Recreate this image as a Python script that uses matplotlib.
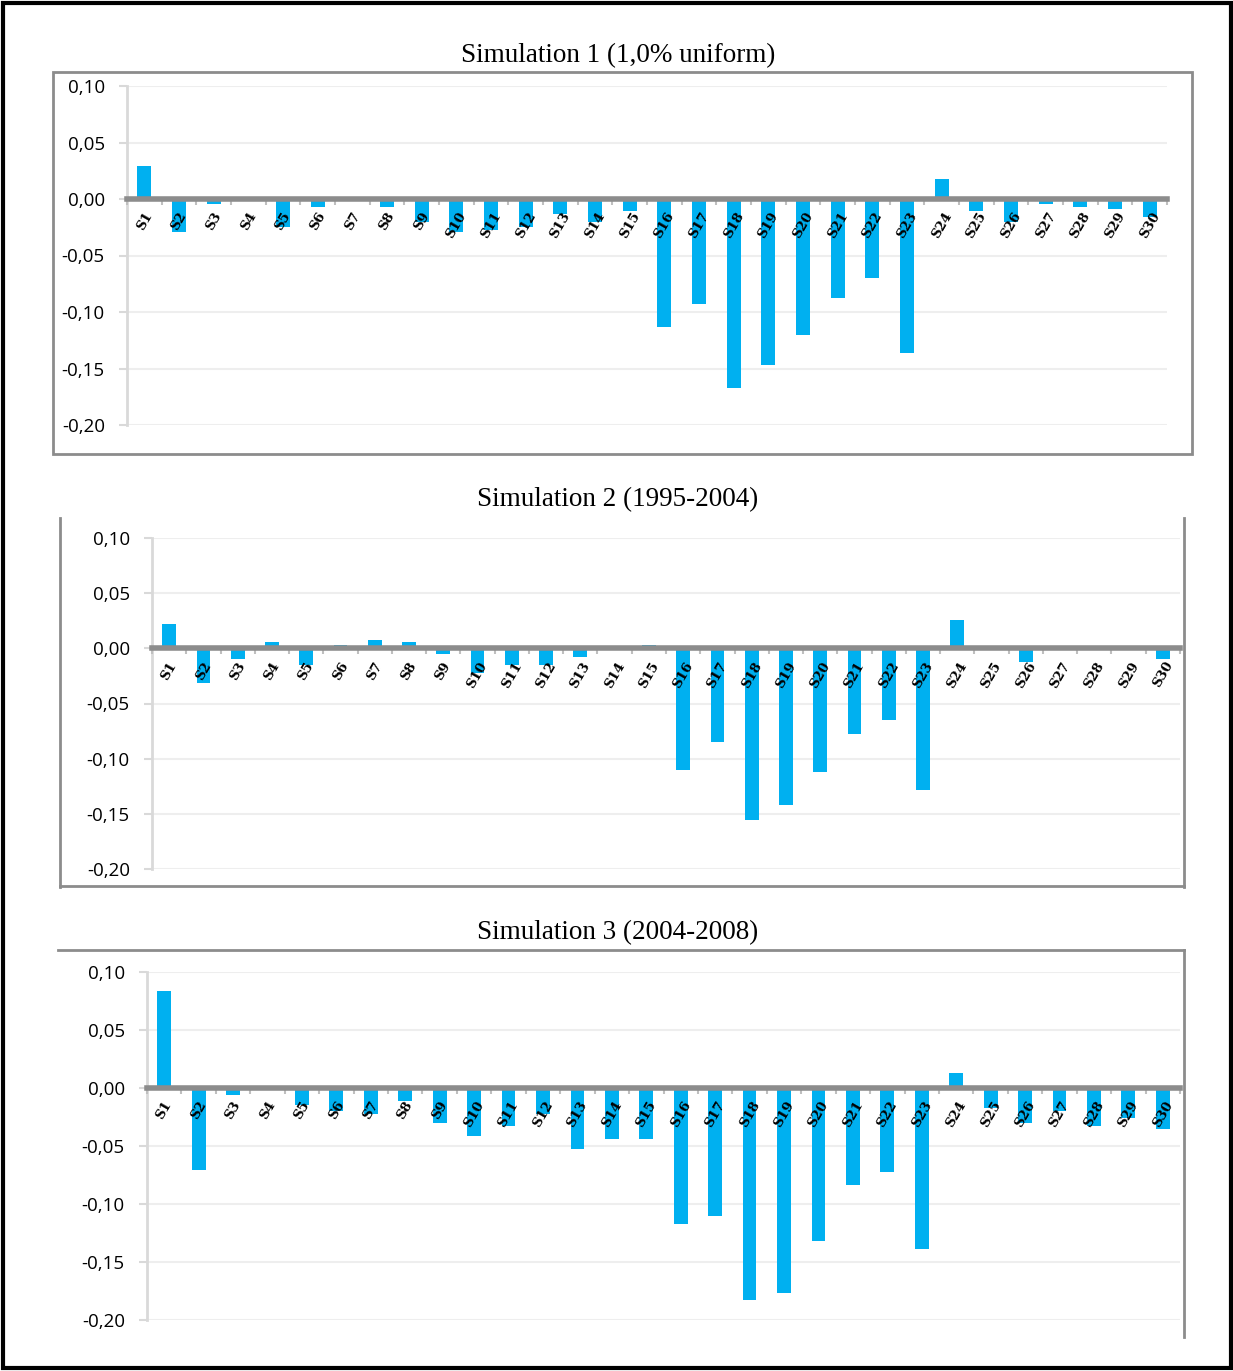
import matplotlib.pyplot as plt
import numpy as np
from matplotlib.lines import Line2D
from matplotlib.patches import Rectangle

sectors = ["S%d" % i for i in range(1, 31)]

sim1 = [0.029, -0.029, -0.004, 0.0, -0.025, -0.007, 0.0, -0.007, -0.020, -0.029,
        -0.027, -0.025, -0.013, -0.020, -0.011, -0.113, -0.093, -0.167, -0.147, -0.120,
        -0.088, -0.070, -0.136, 0.018, -0.011, -0.020, -0.004, -0.007, -0.009, -0.016]

sim2 = [0.022, -0.031, -0.010, 0.006, -0.015, 0.003, 0.008, 0.006, -0.005, -0.022,
        -0.015, -0.015, -0.008, 0.0, 0.003, -0.110, -0.085, -0.156, -0.142, -0.112,
        -0.078, -0.065, -0.128, 0.026, 0.0, -0.012, 0.0, 0.0, 0.0, -0.010]

sim3 = [0.084, -0.071, -0.006, 0.0, -0.015, -0.020, -0.022, -0.011, -0.030, -0.041,
        -0.033, -0.022, -0.053, -0.044, -0.044, -0.117, -0.110, -0.183, -0.177, -0.132,
        -0.084, -0.072, -0.139, 0.013, -0.017, -0.030, -0.020, -0.033, -0.026, -0.035]

titles = ["Simulation 1 (1,0% uniform)", "Simulation 2 (1995-2004)", "Simulation 3 (2004-2008)"]
yticks = [0.10, 0.05, 0.0, -0.05, -0.10, -0.15, -0.20]
ylabels = ["0,10", "0,05", "0,00", "-0,05", "-0,10", "-0,15", "-0,20"]

W, H = 1233, 1371
fig = plt.figure(figsize=(W / 100, H / 100), dpi=100)
fig.patch.set_facecolor("white")

BAR = "#00B0F0"
FRAME = "#8C8C8C"


def fx(px):
    return px / W


def fy(py):
    return 1 - py / H


def draw_panel(vals, title, x0, x1, ytop, ybot, title_y):
    ax = fig.add_axes([fx(x0), fy(ybot), fx(x1 - x0), (ybot - ytop) / H])
    x = np.arange(len(vals))
    ax.bar(x, vals, width=0.4, color=BAR, zorder=2)
    ax.set_xlim(-0.5, len(vals) - 0.5)
    ax.set_ylim(-0.20, 0.10)
    ax.set_axisbelow(False)

    # gridlines
    for t in yticks:
        if t != 0:
            ax.axhline(t, color="#EEEEEE", lw=1.5, zorder=0)
    ax.set_yticks(yticks)
    ax.set_yticklabels(ylabels, fontsize=13.5, family="Open Sans")
    ax.tick_params(axis="y", length=6, width=1.5, color="#D9D9D9", pad=10)

    # zero axis with categories
    ax.spines["bottom"].set_position(("data", 0))
    ax.spines["bottom"].set_color("#8C8C8C")
    ax.spines["bottom"].set_linewidth(4)
    ax.spines["bottom"].set_zorder(3)
    ax.spines["left"].set_color("#D9D9D9")
    ax.spines["left"].set_linewidth(2)
    ax.spines["top"].set_visible(False)
    ax.spines["right"].set_visible(False)
    ax.set_xticks(x)
    ax.set_xticklabels(sectors, rotation=60, fontsize=9.5, ha="center", va="top",
                       family="DejaVu Serif", fontweight="bold")
    ax.tick_params(axis="x", length=0, pad=8)
    ax.set_xticks(np.arange(len(vals) + 1) - 0.5, minor=True)
    ax.tick_params(axis="x", which="minor", length=4, width=1.5, color="#BFBFBF")
    ax.set_facecolor("none")

    fig.text(fx(618), fy(title_y), title, ha="center", va="center",
             fontsize=19.5, family="Liberation Serif")
    return ax


draw_panel(sim1, titles[0], 127, 1167, 86, 425, 56)
draw_panel(sim2, titles[1], 152, 1180, 538, 869, 500)
draw_panel(sim3, titles[2], 147, 1180, 972, 1320, 933)


def line(xs, ys, color=FRAME, lw=2):
    fig.add_artist(Line2D([fx(v) for v in xs], [fy(v) for v in ys], color=color, lw=lw))


# panel frames
fig.add_artist(Rectangle((fx(53), fy(454)), fx(1192 - 53), (454 - 72) / H,
                         fill=False, edgecolor=FRAME, lw=2))
line([60, 60], [518, 887])
line([60, 1184], [886, 886])
line([1184, 1184], [518, 887])
line([58, 1184], [950, 950])
line([1184, 1184], [950, 1337])

# outer border
fig.add_artist(Rectangle((fx(3), fy(1368)), fx(1228), 1365 / H,
                         fill=False, edgecolor="black", lw=3))

plt.savefig("out.png", dpi=100)
